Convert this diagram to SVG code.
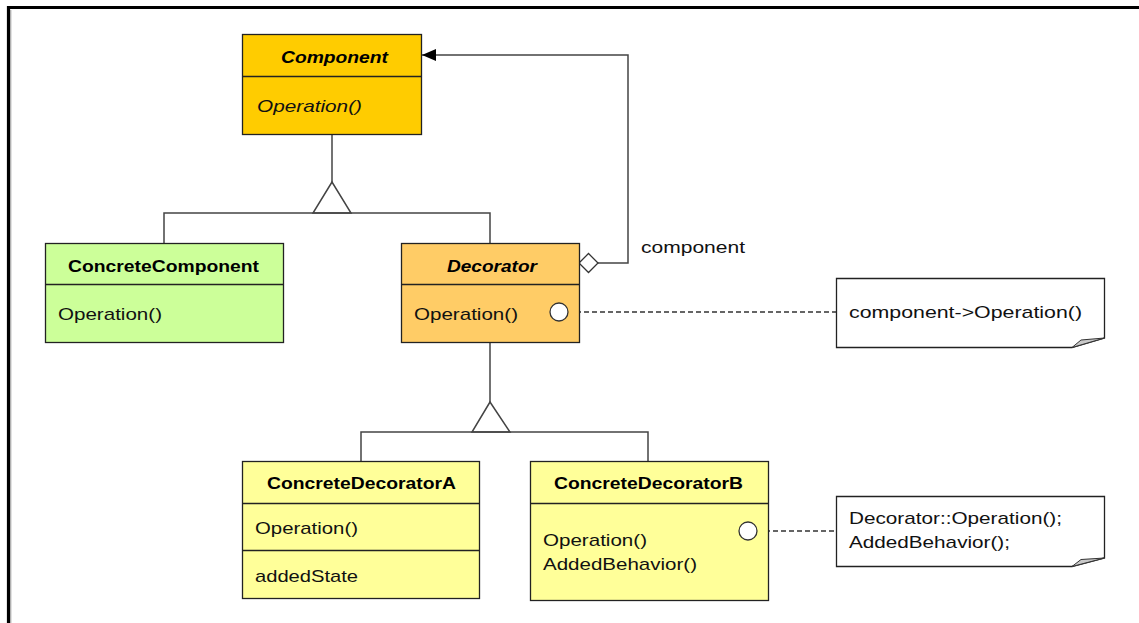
<svg xmlns="http://www.w3.org/2000/svg" width="1139" height="623" viewBox="0 0 1139 623">
<defs>
<style>
.box{stroke:#222;stroke-width:1.3}
.ln{stroke:#444;stroke-width:1.5;fill:none}
.dash{stroke:#333;stroke-width:1.3;fill:none;stroke-dasharray:5 3}
.t{font-family:"Liberation Sans",Arial,sans-serif;font-size:17px;fill:#111}
.b{font-weight:bold;fill:#000}
.i{font-style:italic}
.c{text-anchor:middle}
.port{fill:#fff;stroke:#333;stroke-width:1.3}
.note{fill:#fff;stroke:#222;stroke-width:1.3}
</style>
<marker id="arr" viewBox="0 0 14 12" refX="14" refY="6" markerWidth="14" markerHeight="12" markerUnits="userSpaceOnUse" orient="auto">
<path d="M0,0 L14,6 L0,12 Z" fill="#000"/>
</marker>
</defs>
<rect x="0" y="0" width="1139" height="623" fill="#fff"/>
<path d="M8.5,623 V7.5 H1139" fill="none" stroke="#000" stroke-width="3.2"/>
<path d="M10.8,623 V10" fill="none" stroke="#999" stroke-width="1"/>

<g id="connectors">
<path class="ln" d="M332,134 V182"/>
<path class="ln" d="M332,182 L313,213 L351,213 Z" fill="#fff"/>
<path class="ln" d="M164,243 V213 H490 V243"/>
<path class="ln" d="M490,342 V402"/>
<path class="ln" d="M490,402 L472,432 L510,432 Z" fill="#fff"/>
<path class="ln" d="M361,461 V432 H648 V461"/>
<path class="ln" d="M597,263 H628 V55 H422" marker-end="url(#arr)"/>
<path d="M579,263 L588.5,253.5 L598,263 L588.5,272.5 Z" fill="#fff" stroke="#333" stroke-width="1.3"/>
<path class="dash" d="M568,312 H836"/>
<path class="dash" d="M757,531 H836"/>
<text class="t" x="641" y="253" textLength="104" lengthAdjust="spacingAndGlyphs">component</text>
</g>

<g id="Component">
<rect class="box" x="242.5" y="34.5" width="179" height="100" fill="#ffcc00"/>
<line class="box" x1="242.5" y1="76.5" x2="421.5" y2="76.5"/>
<text class="t b i" x="281" y="63" textLength="107" lengthAdjust="spacingAndGlyphs">Component</text>
<text class="t i" x="257" y="112" textLength="105" lengthAdjust="spacingAndGlyphs">Operation()</text>
</g>

<g id="ConcreteComponent">
<rect class="box" x="45.5" y="243.5" width="238" height="99" fill="#ccff99"/>
<line class="box" x1="45.5" y1="284.5" x2="283.5" y2="284.5"/>
<text class="t b" x="68" y="272" textLength="191" lengthAdjust="spacingAndGlyphs">ConcreteComponent</text>
<text class="t" x="58" y="320" textLength="104" lengthAdjust="spacingAndGlyphs">Operation()</text>
</g>

<g id="Decorator">
<rect class="box" x="401.5" y="243.5" width="178" height="99" fill="#ffcc66"/>
<line class="box" x1="401.5" y1="284.5" x2="579.5" y2="284.5"/>
<text class="t b i" x="447" y="272" textLength="90" lengthAdjust="spacingAndGlyphs">Decorator</text>
<text class="t" x="414" y="320" textLength="104" lengthAdjust="spacingAndGlyphs">Operation()</text>
<circle class="port" cx="559" cy="312" r="9"/>
</g>

<g id="Note1">
<path class="note" d="M836.5,278.5 H1104.5 V338 L1072,347.5 H836.5 Z"/>
<path d="M1072,347.5 L1081,340 L1104.5,338 Z" fill="#c8c8c8" stroke="#333" stroke-width="1"/>
<text class="t" x="849" y="318" textLength="233" lengthAdjust="spacingAndGlyphs">component-&gt;Operation()</text>
</g>

<g id="ConcreteDecoratorA">
<rect class="box" x="242.5" y="461.5" width="237" height="137" fill="#ffff99"/>
<line class="box" x1="242.5" y1="503.5" x2="479.5" y2="503.5"/>
<line class="box" x1="242.5" y1="550.5" x2="479.5" y2="550.5"/>
<text class="t b" x="267" y="489" textLength="189" lengthAdjust="spacingAndGlyphs">ConcreteDecoratorA</text>
<text class="t" x="255" y="534" textLength="103" lengthAdjust="spacingAndGlyphs">Operation()</text>
<text class="t" x="255" y="582" textLength="103" lengthAdjust="spacingAndGlyphs">addedState</text>
</g>

<g id="ConcreteDecoratorB">
<rect class="box" x="530.5" y="461.5" width="238" height="139" fill="#ffff99"/>
<line class="box" x1="530.5" y1="503.5" x2="768.5" y2="503.5"/>
<text class="t b" x="554" y="489" textLength="189" lengthAdjust="spacingAndGlyphs">ConcreteDecoratorB</text>
<text class="t" x="543" y="546" textLength="104" lengthAdjust="spacingAndGlyphs">Operation()</text>
<text class="t" x="543" y="570" textLength="154" lengthAdjust="spacingAndGlyphs">AddedBehavior()</text>
<circle class="port" cx="748" cy="531" r="9"/>
</g>

<g id="Note2">
<path class="note" d="M836.5,496.5 H1104.5 V558 L1072,566.5 H836.5 Z"/>
<path d="M1072,566.5 L1081,559.5 L1104.5,558 Z" fill="#c8c8c8" stroke="#333" stroke-width="1"/>
<text class="t" x="849" y="524" textLength="213" lengthAdjust="spacingAndGlyphs">Decorator::Operation();</text>
<text class="t" x="849" y="548" textLength="161" lengthAdjust="spacingAndGlyphs">AddedBehavior();</text>
</g>
</svg>
